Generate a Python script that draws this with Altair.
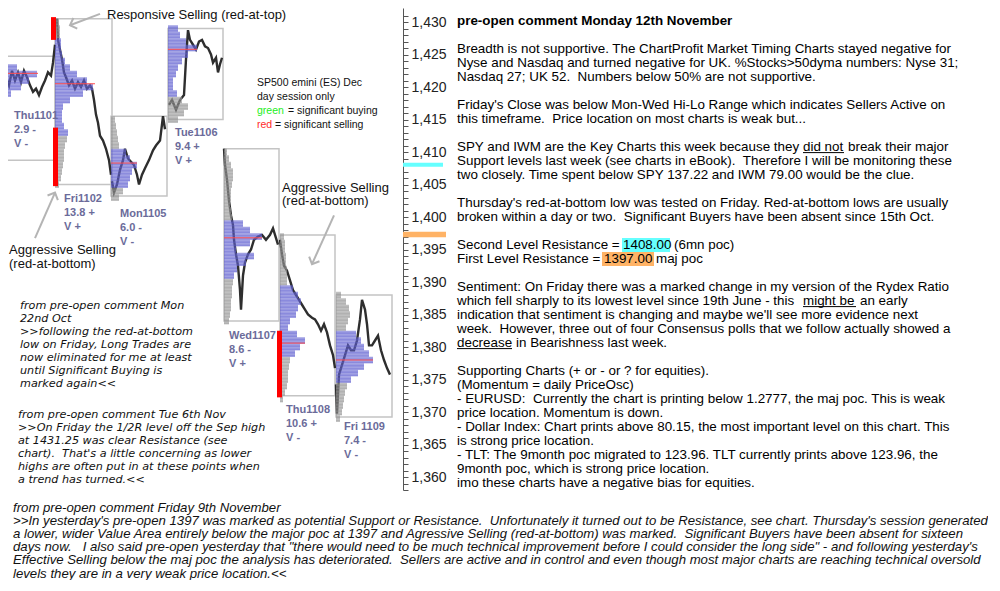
import altair as alt
import pandas as pd

# ---------------- scales ----------------
PRICE_DOMAIN = [1358.0, 1432.154]
BAR_DOMAIN = [8, 403]
ROW_DOMAIN = [-0.92857, 33.5]
price_ticks = list(range(1358, 1432))

# ---------------- sessions ----------------
day_names = ["Thu1101", "Fri1102", "Mon1105", "Tue1106", "Wed1107", "Thu1108", "Fri 1109"]
day_first_bar = [-1, 55, 111, 168, 224, 280, 336]
day_last_bar = [55, 112, 167, 223, 279, 335, 392]
day_high = [1424.75, 1430.5, 1415.5, 1429.0, 1410.5, 1397.25, 1388.0]
day_low = [1408.75, 1405.0, 1403.25, 1415.0, 1384.0, 1372.5, 1369.25]
day_range = ["2.9 -", "13.8 +", "6.0 -", "9.4 +", "8.6 -", "10.6 +", "7.4 -"]
day_volume = ["V -", "V +", "V -", "V +", "V +", "V -", "V -"]
label_bar = [14, 64, 120, 175, 229, 286, 344]
label_price = [1415.5, 1402.75, 1400.5, 1413.0, 1381.75, 1370.25, 1367.75]

poc_price = [1422.1, 1420.5, 1408.3, 1425.8, 1396.8, 1380.6, 1378.0]
poc_length = [39, 40, 26, 29, 38, 25, 37]

# volume profiles: width per 1-point level, from the top price downwards
profile_top = [1425, 1430, 1415, 1429, 1410, 1397, 1388]
va_high = [1423, 1427, 1410, 1429, 1399, 1389, 1382]
va_low = [1419, 1413, 1405, 1419, 1391, 1379, 1375]
prof_thu1101 = [5, 7, 18, 38, 30, 22, 12, 6, 5, 6, 7, 8, 7, 6, 5, 4, 3]
prof_fri1102 = [4, 5, 5, 6, 6, 7, 10, 15, 22, 32, 38, 28, 15, 8, 7, 7, 9, 13, 12, 10, 9, 9, 8, 7, 6, 4]
prof_mon1105 = [4, 5, 6, 7, 8, 15, 19, 26, 21, 19, 17, 12, 8]
prof_tue1106 = [10, 12, 18, 29, 20, 14, 10, 8, 5, 5, 9, 14, 20, 16, 10]
prof_wed1107 = [3, 5, 7, 9, 9, 8, 7, 7, 6, 7, 8, 19, 26, 38, 26, 12, 30, 22, 13, 10, 9, 8, 8, 7, 7, 6, 5]
prof_thu1108 = [4, 5, 5, 6, 6, 7, 7, 7, 13, 18, 21, 18, 16, 10, 8, 17, 25, 20, 15, 10, 9, 8, 8, 7, 5, 3]
prof_fri1109 = [5, 10, 13, 14, 12, 10, 20, 25, 28, 33, 37, 28, 22, 15, 11, 9, 8, 7, 6, 4]
profiles = [prof_thu1101, prof_fri1102, prof_mon1105, prof_tue1106, prof_wed1107, prof_thu1108, prof_fri1109]

# price path (bar index, price)
thu1101_bars = [3, 6, 9, 12, 15, 18, 21, 24, 27, 30, 33, 36, 39, 42, 45, 48, 51, 53, 55]
thu1101_px = [1419.5, 1421.5, 1420.25, 1422.5, 1421, 1422.25, 1420.75, 1422.5, 1421.5, 1420.25,
              1419.25, 1419.75, 1418.75, 1420, 1421, 1422.25, 1421.75, 1423.75, 1426.5]
fri1102_bars = [57, 58, 60, 62, 64, 66, 69, 72, 75, 78, 81, 84, 87, 90, 92, 94, 96, 98, 100, 103, 106, 109, 111]
fri1102_px = [1430.5, 1427.25, 1425.75, 1424.25, 1422.25, 1421.5, 1420.25, 1421, 1419.75, 1420.75, 1420,
              1421, 1419.75, 1420.25, 1419.75, 1418, 1415.75, 1414.5, 1412.5, 1411.75, 1410.5, 1408.75, 1406.5]
mon1105_bars = [112, 114, 117, 120, 123, 125, 128, 131, 134, 137, 139, 142, 145, 149, 153, 156, 160, 163, 165]
mon1105_px = [1405.5, 1403.75, 1405, 1407.25, 1408.75, 1410.5, 1409, 1408.5, 1408, 1406.5, 1405, 1406.5,
              1407.5, 1408.75, 1410.25, 1411, 1411.75, 1415.5, 1413.5]
tue1106_bars = [169, 172, 176, 180, 184, 186, 188, 190, 193, 196, 199, 202, 205, 208, 211, 213, 216, 218, 220, 222]
tue1106_px = [1417.25, 1418, 1416.5, 1418, 1418.75, 1424.25, 1428.75, 1427.25, 1426.5, 1425.75, 1427,
              1427.25, 1426.25, 1426, 1425, 1423.75, 1424.5, 1422.25, 1423.5, 1424.5]
wed1107_bars = [224, 225, 227, 229, 231, 233, 234, 236, 238, 240, 241, 243, 245, 248, 251, 254, 258, 262, 266, 270, 273, 275, 278]
wed1107_px = [1410.5, 1408, 1405.75, 1402.5, 1400.25, 1398.75, 1396.5, 1394.25, 1392.5, 1388.75, 1385.75,
              1391, 1393, 1394.25, 1395, 1396.5, 1397, 1397.25, 1396.5, 1397.25, 1398.25, 1397.25, 1395.75]
thu1108_bars = [280, 282, 284, 287, 290, 293, 296, 299, 302, 305, 308, 312, 315, 318, 321, 324, 327, 330, 333, 335]
thu1108_px = [1396.5, 1394.25, 1392.5, 1391.75, 1390.25, 1388.75, 1388, 1387.25, 1386.5, 1385.75, 1385,
              1384.5, 1384.25, 1383.5, 1382.5, 1383.5, 1382.25, 1380.25, 1378.75, 1376.75]
fri1109_bars = [336, 337, 339, 342, 345, 348, 351, 354, 357, 360, 362, 365, 367, 369, 372, 375, 378, 381, 384, 387, 390]
fri1109_px = [1374.25, 1369.75, 1375.75, 1377.25, 1378.75, 1380.25, 1379.5, 1379.5, 1381, 1384.25, 1387.25,
              1385.75, 1383.5, 1380.25, 1380.25, 1381, 1381.75, 1379.5, 1378, 1376.75, 1375.75]
path_bars = [thu1101_bars, fri1102_bars, mon1105_bars, tue1106_bars, wed1107_bars, thu1108_bars, fri1109_bars]
path_prices = [thu1101_px, fri1102_px, mon1105_px, tue1106_px, wed1107_px, thu1108_px, fri1109_px]

# significant selling (red) markers
red_bar = [53.5, 55.5, 279.5]
red_top = [1430.75, 1413.75, 1382.5]
red_bottom = [1427.25, 1404.75, 1372.25]

# key levels marked on the price axis
level_low = [1407.75, 1396.9]
level_high = [1408.35, 1397.75]
level_color = ["#66ffff", "#ffb366"]

# annotations
annot_text = ["Responsive Selling (red-at-top)", "Aggressive Selling", "(red-at-bottom)",
              "Aggressive Selling", "(red-at-bottom)"]
annot_bar = [107, 9, 9, 282, 282]
annot_price = [1431.1, 1394.9, 1392.75, 1404.45, 1402.45]
arrow_from_bar = [100, 35, 334]
arrow_from_price = [1431.25, 1396.75, 1400.25]
arrow_to_bar = [70, 55, 312]
arrow_to_price = [1429.5, 1403.75, 1392.75]
arrow_angle = [250, 24, 204]

legend_lines = ["SP500 emini (ES) Dec", "day session only"]
legend_line_price = [1420.6, 1418.45]
legend_keys = ["green", "red"]
legend_key_color = ["#22ee22", "#ff2a2a"]
legend_key_price = [1416.3, 1414.15]
legend_key_desc = ["= significant buying", "= significant selling"]
legend_desc_bar = [288, 275]

# ---------------- commentary ----------------
title_text = "pre-open comment Monday 12th November"
comment_rows = [2, 3, 4, 6, 7, 10, 11, 13, 14, 19, 21, 22, 25, 26, 27, 28, 29, 30, 31, 32, 33]
comment_text = [
    "Breadth is not supportive. The ChartProfit Market Timing Charts stayed negative for",
    "Nyse and Nasdaq and turned negative for UK. %Stocks>50dyma numbers: Nyse 31;",
    "Nasdaq 27; UK 52.  Numbers below 50% are not supportive.",
    "Friday's Close was below Mon-Wed Hi-Lo Range which indicates Sellers Active on",
    "this timeframe.  Price location on most charts is weak but...",
    "Support levels last week (see charts in eBook).  Therefore I will be monitoring these",
    "two closely. Time spent below SPY 137.22 and IWM 79.00 would be the clue.",
    "Thursday's red-at-bottom low was tested on Friday. Red-at-bottom lows are usually",
    "broken within a day or two.  Significant Buyers have been absent since 15th Oct.",
    "Sentiment: On Friday there was a marked change in my version of the Rydex Ratio",
    "indication that sentiment is changing and maybe we'll see more evidence next",
    "week.  However, three out of four Consensus polls that we follow actually showed a",
    "Supporting Charts (+ or - or ? for equities).",
    "(Momentum = daily PriceOsc)",
    "- EURUSD:  Currently the chart is printing below 1.2777, the maj poc. This is weak",
    "price location. Momentum is down.",
    "- Dollar Index: Chart prints above 80.15, the most important level on this chart. This",
    "is strong price location.",
    "- TLT: The 9month poc migrated to 123.96. TLT currently prints above 123.96, the",
    "9month poc, which is strong price location.",
    "imo these charts have a negative bias for equities.",
]
# lines made of pieces (row, start column, text)
piece_rows = [9, 9, 9, 16, 16, 16, 17, 17, 17, 20, 20, 20, 23, 23]
piece_cols = [457, 803, 848, 457, 623, 674, 457, 604, 656, 457, 803, 860, 457, 516]
piece_text = ["SPY and IWM are the Key Charts this week because they", "did not", "break their major",
              "Second Level Resistance =", "1408.00", "(6mn poc)",
              "First Level Resistance =", "1397.00", "maj poc",
              "which fell sharply to its lowest level since 19th June - this", "might be", "an early",
              "decrease", "in Bearishness last week."]
highlight_rows = [16, 17]
highlight_from = [622, 602]
highlight_to = [670, 654]
highlight_color = ["#66ffff", "#ffb366"]
underline_rows = [9, 20, 23]
underline_from = [803, 803, 457]
underline_to = [844, 856, 512]

note1_lines = ["from pre-open comment Mon", "22nd Oct", ">>following the red-at-bottom",
               "low on Friday, Long Trades are", "now eliminated for me at least",
               "until Significant Buying is", "marked again<<"]
note2_lines = ["from pre-open comment Tue 6th Nov", ">>On Friday the 1/2R level off the Sep high",
               "at 1431.25 was clear Resistance (see", "chart).  That's a little concerning as lower",
               "highs are often put in at these points when", "a trend has turned.<<"]
note3_lines = [
    "from pre-open comment Friday 9th November",
    ">>In yesterday's pre-open 1397 was marked as potential Support or Resistance.  Unfortunately it turned out to be Resistance, see chart. Thursday's session generated",
    "a lower, wider Value Area entirely below the major poc at 1397 and Agressive Selling (red-at-bottom) was marked.  Significant Buyers have been absent for sixteen",
    "days now.   I also said pre-open yesterday that \"there would need to be much technical improvement before I could consider the long side\" - and following yesterday's",
    "Effective Selling below the maj poc the analysis has deteriorated.  Sellers are active and in control and even though most major charts are reaching technical oversold",
    "levels they are in a very weak price location.<<",
]


def keep_spaces(s):
    # SVG collapses runs of spaces; keep them visible
    return s.replace("  ", " \u00a0")


# ---------------- tables ----------------
LABEL_STEP = 14 / 6.5
days_df = pd.DataFrame(dict(day=day_names, x=day_first_bar, x2=day_last_bar, hi=day_high, lo=day_low))

lab_rows = []
for i, n in enumerate(day_names):
    for k, t in enumerate([n, day_range[i], day_volume[i]]):
        lab_rows.append(dict(x=label_bar[i], p=label_price[i] - k * LABEL_STEP, text=t))
labels_df = pd.DataFrame(lab_rows)

prof_rows, stripe_rows = [], []
for i, widths in enumerate(profiles):
    for k, w in enumerate(widths):
        p = profile_top[i] - k
        va = "va" if va_low[i] <= p <= va_high[i] else "out"
        x0 = day_first_bar[i]
        prof_rows.append(dict(x=x0, x2=x0 + w, lo=p - 0.5, hi=p + 0.5, va=va))
        stripe_rows.append(dict(x=x0, x2=x0 + w, lo=p - 0.5, hi=p - 0.25, va=va))
        stripe_rows.append(dict(x=x0, x2=x0 + w, lo=p, hi=p + 0.25, va=va))
prof_df = pd.DataFrame(prof_rows)
stripe_df = pd.DataFrame(stripe_rows)

poc_df = pd.DataFrame(dict(x=day_first_bar, x2=[a + b for a, b in zip(day_first_bar, poc_length)], p=poc_price))

path_rows = []
for i, n in enumerate(day_names):
    for b, p in zip(path_bars[i], path_prices[i]):
        path_rows.append(dict(day=n, x=b, p=p))
path_df = pd.DataFrame(path_rows)

red_df = pd.DataFrame(dict(x=red_bar, top=red_top, bottom=red_bottom))
level_df = pd.DataFrame(dict(x=[403, 403], x2=[443, 446], lo=level_low, hi=level_high, c=level_color))
annot_df = pd.DataFrame(dict(x=annot_bar, p=annot_price, text=annot_text))
arrow_df = pd.DataFrame(dict(x=arrow_from_bar, p=arrow_from_price, x2=arrow_to_bar, p2=arrow_to_price,
                             angle=arrow_angle))
legend_df = pd.DataFrame(dict(x=[257, 257], p=legend_line_price, text=legend_lines))
legkey_df = pd.DataFrame(dict(x=[257, 257], p=legend_key_price, text=legend_keys, c=legend_key_color))
legdesc_df = pd.DataFrame(dict(x=legend_desc_bar, p=legend_key_price, text=legend_key_desc))

title_df = pd.DataFrame(dict(x=[457], row=[0], text=[title_text]))
comment_df = pd.DataFrame(dict(x=[457] * len(comment_rows), row=comment_rows,
                               text=[keep_spaces(t) for t in comment_text]))
piece_df = pd.DataFrame(dict(x=piece_cols, row=piece_rows, text=[keep_spaces(t) for t in piece_text]))
hl_df = pd.DataFrame(dict(x=highlight_from, x2=highlight_to, lo=[r - 0.5 for r in highlight_rows],
                          hi=[r + 0.5 for r in highlight_rows], c=highlight_color))
ul_df = pd.DataFrame(dict(x=underline_from, x2=underline_to, row=[r + 0.4 for r in underline_rows]))


def block(lines, x, first_row, step):
    return pd.DataFrame(dict(x=[x] * len(lines), row=[first_row + k * step for k in range(len(lines))],
                             text=[keep_spaces(t) for t in lines]))


note1_df = block(note1_lines, 20, 20.357, 13 / 14)
note2_df = block(note2_lines, 18, 28.143, 13 / 14)
note3_df = block(note3_lines, 13, 34.786, 13.1 / 14)

# ---------------- encodings ----------------
price_axis = alt.Axis(orient="right", values=price_ticks,
                      labelExpr="datum.value % 5 === 0 ? format(datum.value, ',') : ''",
                      tickSize=5, tickColor="#555555", domainColor="#555555", labelColor="#222222",
                      labelFont="Liberation Sans", labelFontSize=14, labelPadding=3,
                      labelOverlap=False, grid=False, title=None, labelBound=False)


def X(f="x"):
    return alt.X(f"{f}:Q", scale=alt.Scale(domain=BAR_DOMAIN, nice=False, zero=False), axis=None)


def P(f):
    return alt.Y(f"{f}:Q", scale=alt.Scale(domain=PRICE_DOMAIN, nice=False, zero=False), axis=price_axis)


def R(f="row"):
    return alt.Y(f"{f}:Q", scale=alt.Scale(domain=ROW_DOMAIN, reverse=True, nice=False, zero=False), axis=None)


SANS = "Liberation Sans"
va_color = alt.Scale(domain=["va", "out"], range=["#6060d0", "#969696"])
va_stripe = alt.Scale(domain=["va", "out"], range=["#3434b0", "#6e6e6e"])

boxes = alt.Chart(days_df).mark_rect(fillOpacity=0, stroke="#c4c4c4", strokeWidth=1.5, clip=True).encode(
    x=X(), x2="x2:Q", y=P("lo"), y2="hi:Q")
price_line = alt.Chart(path_df).mark_line(color="#2e2e2e", strokeWidth=2.4, clip=True).encode(
    x=X(), y=P("p"), detail="day:N", order="x:Q")
prof_base = alt.Chart(prof_df).mark_rect(opacity=0.6, clip=True).encode(
    x=X(), x2="x2:Q", y=P("lo"), y2="hi:Q", color=alt.Color("va:N", scale=va_color, legend=None))
prof_stripes = alt.Chart(stripe_df).mark_rect(opacity=0.35, clip=True).encode(
    x=X(), x2="x2:Q", y=P("lo"), y2="hi:Q", color=alt.Color("va:N", scale=va_stripe, legend=None))
poc = alt.Chart(poc_df).mark_rule(color="#ff4d4d", strokeWidth=1, clip=True).encode(x=X(), x2="x2:Q", y=P("p"))
reds = alt.Chart(red_df).mark_rule(color="#ff0000", strokeWidth=5).encode(x=X(), y=P("top"), y2="bottom:Q")
levels = alt.Chart(level_df).mark_rect().encode(
    x=X(), x2="x2:Q", y=P("lo"), y2="hi:Q", color=alt.Color("c:N", scale=None))
day_labels = alt.Chart(labels_df).mark_text(align="left", baseline="middle", font=SANS, fontSize=11,
                                            fontWeight="bold", color="#6b6b9a").encode(
    x=X(), y=P("p"), text="text:N")
annots = alt.Chart(annot_df).mark_text(align="left", baseline="middle", font=SANS, fontSize=13,
                                       color="#111111").encode(x=X(), y=P("p"), text="text:N")
arrow_shaft = alt.Chart(arrow_df).mark_rule(color="#b4b4b4", strokeWidth=2).encode(
    x=X(), x2="x2:Q", y=P("p"), y2="p2:Q")
arrow_head = alt.Chart(arrow_df).mark_point(shape="M -0.8 0.8 L 0 0 L 0.8 0.8", filled=False,
                                            color="#b4b4b4", strokeWidth=2, size=200, opacity=1).encode(
    x=X("x2"), y=P("p2"), angle=alt.Angle("angle:Q", scale=None))
legend_txt = alt.Chart(legend_df).mark_text(align="left", baseline="middle", font=SANS, fontSize=10.5,
                                            color="#111111").encode(x=X(), y=P("p"), text="text:N")
legend_key = alt.Chart(legkey_df).mark_text(align="left", baseline="middle", font=SANS, fontSize=10.5).encode(
    x=X(), y=P("p"), text="text:N", color=alt.Color("c:N", scale=None))
legend_desc = alt.Chart(legdesc_df).mark_text(align="left", baseline="middle", font=SANS, fontSize=10.5,
                                              color="#111111").encode(x=X(), y=P("p"), text="text:N")

chart_part = alt.layer(boxes, price_line, prof_base, prof_stripes, poc, reds, levels, day_labels,
                       arrow_shaft, arrow_head, annots, legend_txt, legend_key, legend_desc)

hl = alt.Chart(hl_df).mark_rect().encode(x=X(), x2="x2:Q", y=R("lo"), y2="hi:Q",
                                         color=alt.Color("c:N", scale=None))
title = alt.Chart(title_df).mark_text(align="left", baseline="middle", font=SANS, fontSize=13.4,
                                      fontWeight="bold", color="#000000").encode(x=X(), y=R(), text="text:N")
comments = alt.Chart(comment_df).mark_text(align="left", baseline="middle", font=SANS, fontSize=13.4,
                                           color="#000000").encode(x=X(), y=R(), text="text:N")
pieces = alt.Chart(piece_df).mark_text(align="left", baseline="middle", font=SANS, fontSize=13.4,
                                       color="#000000").encode(x=X(), y=R(), text="text:N")
underl = alt.Chart(ul_df).mark_rule(color="#000000", strokeWidth=1).encode(x=X(), x2="x2:Q", y=R())
note1 = alt.Chart(note1_df).mark_text(align="left", baseline="middle", font="DejaVu Sans", fontStyle="italic",
                                      fontSize=11.2, color="#111111").encode(x=X(), y=R(), text="text:N")
note2 = alt.Chart(note2_df).mark_text(align="left", baseline="middle", font="DejaVu Sans", fontStyle="italic",
                                      fontSize=11.2, color="#111111").encode(x=X(), y=R(), text="text:N")
note3 = alt.Chart(note3_df).mark_text(align="left", baseline="middle", font=SANS, fontStyle="italic",
                                      fontSize=13.2, color="#111111").encode(x=X(), y=R(), text="text:N")

text_part = alt.layer(hl, title, comments, pieces, underl, note1, note2, note3)

chart = alt.layer(chart_part, text_part).resolve_scale(y="independent").properties(
    width=395, height=482, padding=0, background="white"
).configure_view(strokeWidth=0)

chart.save("out.html", embed_options={"renderer": "svg", "actions": False})
